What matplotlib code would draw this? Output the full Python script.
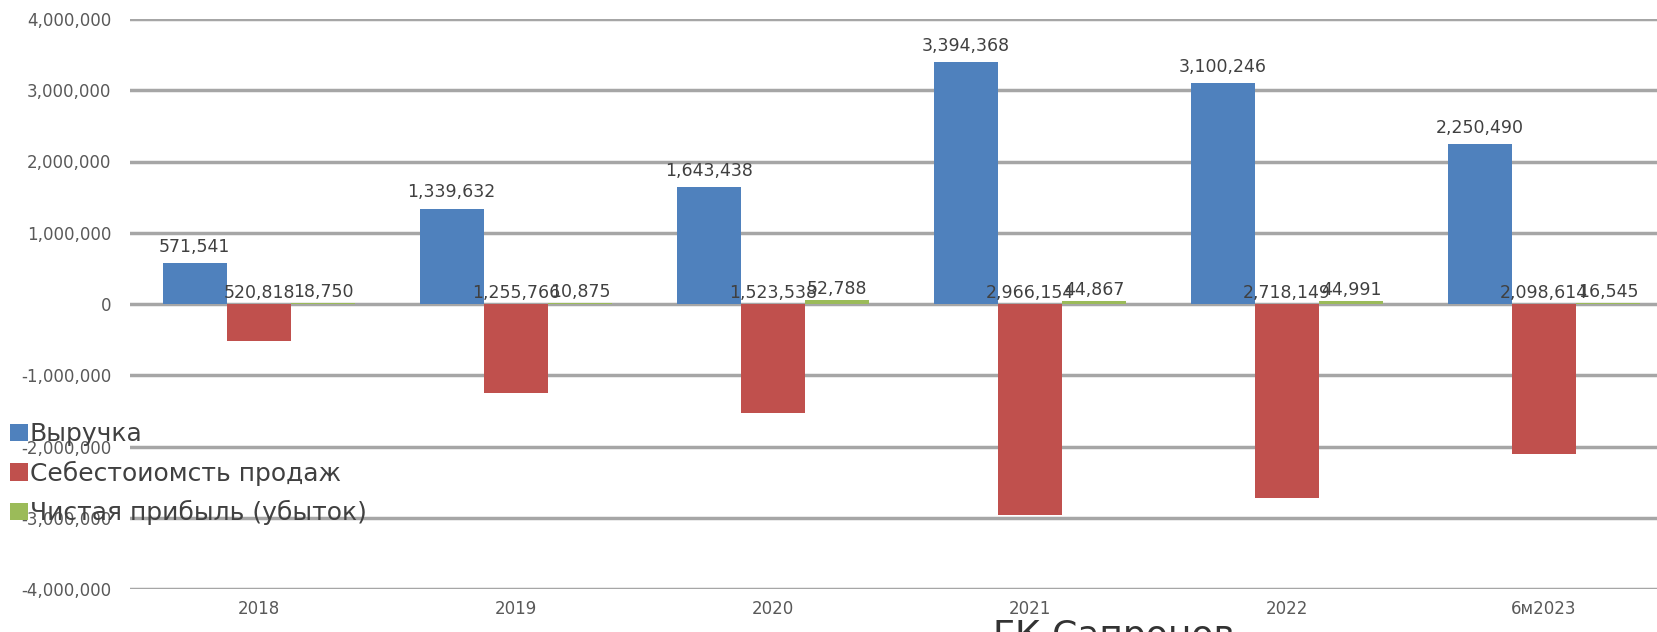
import matplotlib.pyplot as plt
import matplotlib.ticker as ticker
import numpy as np

plt.rcParams["font.family"] = ["DejaVu Sans"]

# data
years = ["2018", "2019", "2020", "2021", "2022", "6м2023"]
revenue = [571541, 1339632, 1643438, 3394368, 3100246, 2250490]
cost = [-520818, -1255766, -1523538, -2966154, -2718149, -2098614]
profit = [18750, 10875, 52788, 44867, 44991, 16545]
series_names = ["Выручка", "Себестоиомсть продаж", "Чистая прибыль (убыток)"]

blue, red, green = "#4F81BD", "#C0504D", "#9BBB59"
txt = "#404040"

W, H = 1658, 632
fig = plt.figure(figsize=(W / 100, H / 100), dpi=100)
left, top, bottom, step = 130.5, 19, 589, 257
ax = fig.add_axes([left / W, 1 - bottom / H, 1 - left / W, (bottom - top) / H])

x = np.arange(len(years))
w = 0.25
ax.bar(x - w, revenue, w, color=blue, label=series_names[0], zorder=3)
ax.bar(x, cost, w, color=red, label=series_names[1], zorder=3)
ax.bar(x + w, profit, w, color=green, label=series_names[2], zorder=3)

ax.set_ylim(-4000000, 4000000)
ax.set_xlim(-0.5, -0.5 + (W - left) / step)
ax.yaxis.set_major_locator(ticker.MultipleLocator(1000000))
ax.yaxis.set_major_formatter(ticker.FuncFormatter(lambda v, p: f"{int(v):,}"))
ax.set_xticks(x, years)
ax.grid(axis="y", color="#A6A6A6", linewidth=2.5, zorder=0)
ax.tick_params(length=0, labelsize=12, labelcolor="#595959")
ax.tick_params(axis="y", pad=14)
ax.tick_params(axis="x", pad=8)
for s in ax.spines.values():
    s.set_visible(False)

# data labels
for i in range(len(years)):
    ax.text(x[i] - w, revenue[i] + 100000, f"{revenue[i]:,}", ha="center", va="bottom",
            fontsize=12.5, color=txt, zorder=4)
    ax.text(x[i], 35000, f"{-cost[i]:,}", ha="center", va="bottom",
            fontsize=12.5, color=txt, zorder=4)
    ax.text(x[i] + w, profit[i] + 30000, f"{profit[i]:,}", ha="center", va="bottom",
            fontsize=12.5, color=txt, zorder=4)

fig.legend(loc="upper left", bbox_to_anchor=(10 / W, 1 - 422 / H), frameon=False,
           fontsize=18, labelcolor=txt, handlelength=0.7, handleheight=0.7,
           handletextpad=0.1, labelspacing=0.58, borderaxespad=0, borderpad=0)

# clipped caption at the bottom edge
fig.text(993 / W, 1 - 619 / H, "ГК Сапронов", fontsize=26, color="#333333",
         va="top", ha="left")

fig.savefig("out.png", dpi=100)
